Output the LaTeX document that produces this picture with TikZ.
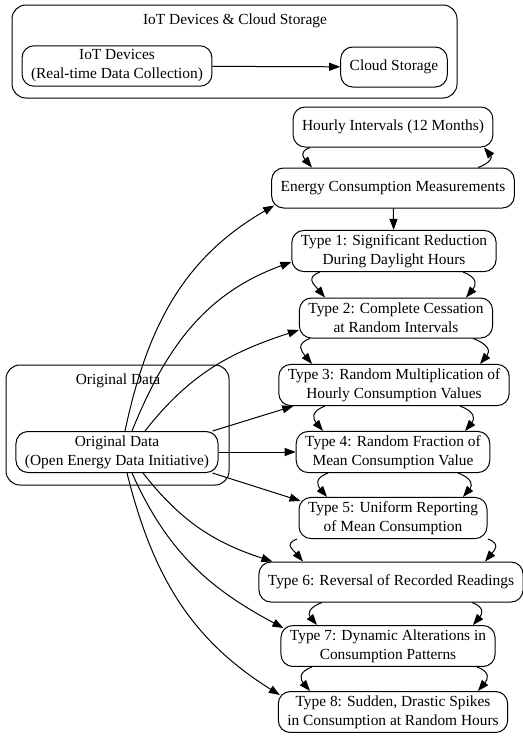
\documentclass[tikz,border=0pt]{standalone}
\usepackage{fontspec}
\setmainfont{Liberation Serif}
\usetikzlibrary{arrows.meta, positioning}

\tikzset{
  box/.style={draw, line width=1pt, rounded corners=12pt, align=center,
    inner xsep=9pt, inner ysep=4pt, minimum height=40pt,
    font=\fontsize{15.4}{19}\selectfont},
  cluster/.style={draw, line width=1pt, rounded corners=14pt},
  title/.style={font=\fontsize{15.4}{19}\selectfont},
  edge/.style={line width=1pt, -{Triangle[length=11pt,width=8pt]}},
  downL/.style={out=200, in=130, looseness=1.6},
  downR/.style={out=-20, in=50, looseness=1.6},
  upR/.style={out=20, in=-50, looseness=1.6}
}

\begin{document}
\begin{tikzpicture}[x=1pt, y=1pt]
  \useasboundingbox (0,0) rectangle (522,-736);

  \draw[cluster] (12,-5) rectangle (457,-98);
  \node[title] (iotcl) at (235,-21) {IoT Devices \& Cloud Storage};
  \node[box] (iot) at (117,-66) {IoT Devices\\(Real-time Data Collection)};
  \node[box] (cloud) at (394,-67) {Cloud Storage};
  \draw[edge] (iot) -- (cloud);

  \draw[cluster] (6,-365) rectangle (229,-485);
  \node[title] (origcl) at (118,-381) {Original Data};
  \node[box] (orig) at (117,-452) {Original Data\\(Open Energy Data Initiative)};

  \node[box] (hourly) at (393,-127) {Hourly Intervals (12 Months)};
  \node[box] (energy) at (393,-188) {Energy Consumption Measurements};
  \node[box] (t1) at (394,-251) {Type 1: Significant Reduction\\During Daylight Hours};
  \node[box] (t2) at (396,-318) {Type 2: Complete Cessation\\at Random Intervals};
  \node[box] (t3) at (394,-385) {Type 3: Random Multiplication of\\Hourly Consumption Values};
  \node[box] (t4) at (393,-452) {Type 4: Random Fraction of\\Mean Consumption Value};
  \node[box] (t5) at (393,-518) {Type 5: Uniform Reporting\\of Mean Consumption};
  \node[box] (t6) at (391,-582) {Type 6: Reversal of Recorded Readings};
  \node[box] (t7) at (388,-646) {Type 7: Dynamic Alterations in\\Consumption Patterns};
  \node[box] (t8) at (393,-712) {Type 8: Sudden, Drastic Spikes\\in Consumption at Random Hours};

  \draw[edge] ([xshift=-83]hourly.south) to[downL] ([xshift=-81]energy.north);
  \draw[edge] ([xshift=85]energy.north) to[upR] ([xshift=91]hourly.south);
  \draw[edge] (energy) -- (t1);
  \draw[edge] ([xshift=-74]t1.south) to[downL] ([xshift=-71]t2.north);
  \draw[edge] ([xshift=69]t1.south) to[downR] ([xshift=70]t2.north);
  \draw[edge] ([xshift=-86]t2.south) to[downL] ([xshift=-82]t3.north);
  \draw[edge] ([xshift=77]t2.south) to[downR] ([xshift=86]t3.north);
  \draw[edge] ([xshift=-69]t3.south) to[downL] ([xshift=-70]t4.north);
  \draw[edge] ([xshift=66]t3.south) to[downR] ([xshift=72]t4.north);
  \draw[edge] ([xshift=-65]t4.south) to[downL] ([xshift=-66]t5.north);
  \draw[edge] ([xshift=65]t4.south) to[downR] ([xshift=70]t5.north);
  \draw[edge] ([xshift=-96]t5.south) to[downL] ([xshift=-88]t6.north);
  \draw[edge] ([xshift=95]t5.south) to[downR] ([xshift=94]t6.north);
  \draw[edge] ([xshift=-69]t6.south) to[downL] ([xshift=-71]t7.north);
  \draw[edge] ([xshift=81]t6.south) to[downR] ([xshift=85]t7.north);
  \draw[edge] ([xshift=-76]t7.south) to[downL] ([xshift=-83]t8.north);
  \draw[edge] ([xshift=89]t7.south) to[downR] ([xshift=85]t8.north);

  \draw[edge] ([xshift=8]orig.north) to[out=78, in=210] ([shift={(3,3)}]energy.south west);
  \draw[edge] ([xshift=15]orig.north) to[out=68, in=200] ([yshift=-11]t1.west);
  \draw[edge] ([xshift=28]orig.north) to[out=52, in=198] ([yshift=-12]t2.west);
  \draw[edge] ([xshift=-6]orig.north east) -- ([xshift=15]t3.south west);
  \draw[edge] (orig.east) -- (t4.west);
  \draw[edge] ([xshift=-6]orig.south east) -- ([shift={(2,-4)}]t5.north west);
  \draw[edge] ([xshift=26]orig.south) to[out=-52, in=162] ([xshift=14]t6.north west);
  \draw[edge] ([xshift=15]orig.south) to[out=-66, in=152] ([shift={(3,-3)}]t7.north west);
  \draw[edge] ([xshift=10]orig.south) to[out=-76, in=148] ([shift={(2,-4)}]t8.north west);
\end{tikzpicture}
\end{document}
